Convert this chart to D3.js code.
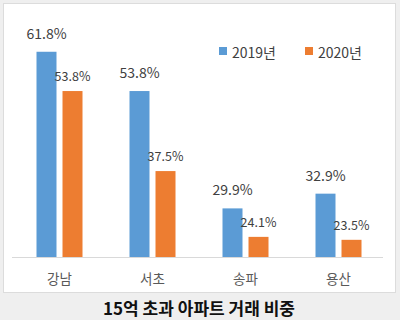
<!DOCTYPE html>
<html>
<head>
<meta charset="utf-8">
<script src="https://cdn.jsdelivr.net/npm/d3@7"></script>
<style>
    body { margin: 0; background: #efefef; }
    svg { display: block; font-family: "Noto Sans CJK KR", "Noto Sans", sans-serif; }
</style>
</head>
<body>
<div id="chart-area"></div>
<script>

// data
var regions = ["강남", "서초", "송파", "용산"];
var seriesNames = ["2019년", "2020년"];
var values2019 = [61.8, 53.8, 29.9, 32.9];
var values2020 = [53.8, 37.5, 24.1, 23.5];
var colors = ["#5b9bd5", "#ed7d31"];
var yDomain = [20, 70];
var title = "15억 초과 아파트 거래 비중";

var width = 400, height = 320;

var svg = d3.select("#chart-area").append("svg")
    .attr("width", width)
    .attr("height", height);

// white chart box
svg.append("rect")
    .attr("x", 3.5).attr("y", 3.5)
    .attr("width", 392).attr("height", 289)
    .attr("fill", "#fff")
    .attr("stroke", "#dcdcdc");

var baseline = 257;

// scales
var x0 = d3.scaleBand()
    .domain(regions)
    .range([13, 385]);

var x1 = d3.scaleBand()
    .domain(seriesNames)
    .range([-23, 23])
    .paddingInner(0.231);

var y = d3.scaleLinear()
    .domain(yDomain)
    .range([baseline, 11.5]);

var rows = regions.map(function(r, i){
    return { region: r, vals: [values2019[i], values2020[i]] };
});

var groups = svg.selectAll(".group")
    .data(rows)
    .enter().append("g")
    .attr("class", "group")
    .attr("transform", function(d){
        return "translate(" + (x0(d.region) + x0.bandwidth() / 2) + ",0)";
    });

var bars = groups.selectAll(".bar")
    .data(function(d){
        return d.vals.map(function(v, j){ return { series: seriesNames[j], value: v, idx: j }; });
    })
    .enter();

bars.append("rect")
    .attr("class", "bar")
    .attr("x", function(d){ return x1(d.series); })
    .attr("width", x1.bandwidth())
    .attr("y", function(d){ return y(d.value); })
    .attr("height", function(d){ return baseline - y(d.value); })
    .attr("fill", function(d){ return colors[d.idx]; });

// value labels
bars.append("text")
    .attr("x", function(d){ return x1(d.series) + x1.bandwidth() / 2; })
    .attr("y", function(d){ return y(d.value) - (d.idx === 0 ? 13 : 10); })
    .attr("text-anchor", "middle")
    .attr("fill", "#404040")
    .style("font-size", function(d){ return d.idx === 0 ? "14px" : "12.5px"; })
    .text(function(d){ return d.value.toFixed(1) + "%"; });

// x axis
var xAxis = d3.axisBottom(x0).tickSize(0).tickPadding(0);
var axisG = svg.append("g")
    .attr("transform", "translate(0," + baseline + ")")
    .call(xAxis);
axisG.select(".domain")
    .attr("d", "M12,0.5H383")
    .attr("stroke", "#d9d9d9");
axisG.selectAll("text")
    .attr("y", 27)
    .attr("dy", null)
    .attr("fill", "#595959")
    .style("font-size", "13.5px")
    .style("font-family", "'Noto Sans CJK KR', sans-serif");

// legend
var legendX = [219, 305];
var legend = svg.selectAll(".legend")
    .data(seriesNames)
    .enter().append("g")
    .attr("class", "legend")
    .attr("transform", function(d, i){ return "translate(" + legendX[i] + ",47)"; });

legend.append("rect")
    .attr("width", 8).attr("height", 8)
    .attr("fill", function(d, i){ return colors[i]; });

legend.append("text")
    .attr("x", 13)
    .attr("y", 11)
    .attr("fill", "#404040")
    .style("font-size", "14px")
    .text(function(d){ return d; });

// title
svg.append("text")
    .attr("x", 199)
    .attr("y", 315)
    .attr("text-anchor", "middle")
    .attr("fill", "#111")
    .style("font-size", "17px")
    .style("font-weight", "bold")
    .text(title);

</script>
</body>
</html>
